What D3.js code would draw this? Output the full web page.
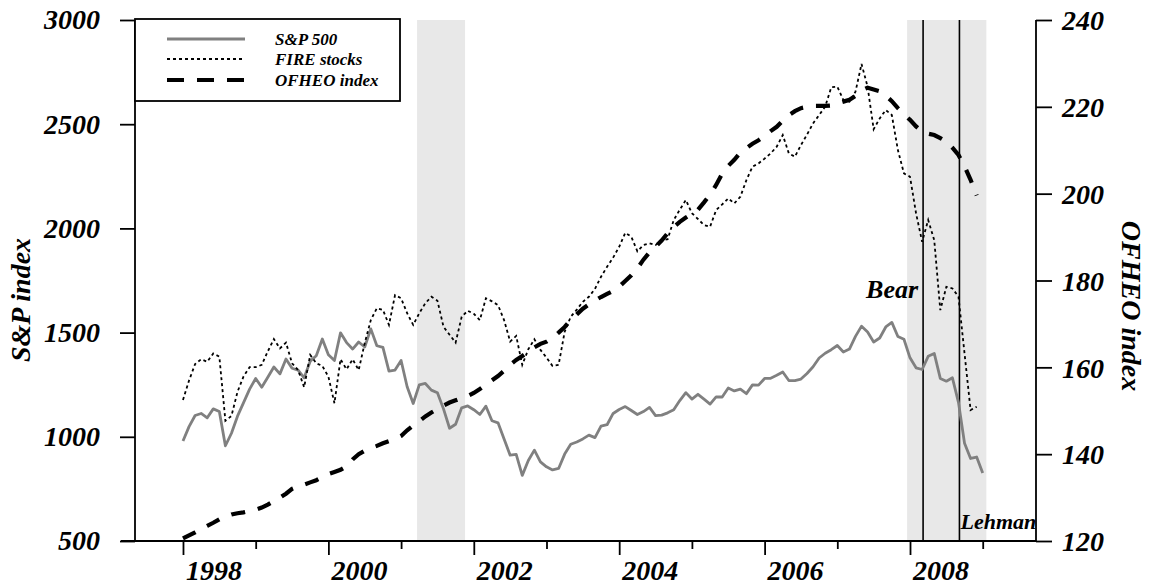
<!DOCTYPE html>
<html><head><meta charset="utf-8">
<script src="https://cdn.jsdelivr.net/npm/d3@7/dist/d3.min.js"></script>
<style>
body{margin:0;background:#fff;}
svg text{font-family:"Liberation Serif","Times New Roman",serif;font-weight:bold;font-style:italic;fill:#000;}
</style></head><body>
<svg id="chart" width="1156" height="588"></svg>
<script>
// ---- data (monthly, first value = Jan 1998) ----
const startYear = 1998;
const sp500 = [980,1049,1102,1112,1091,1134,1121,957,1017,1099,1164,1229,
1280,1238,1286,1335,1302,1373,1329,1320,1283,1363,1389,1469,
1394,1366,1499,1452,1421,1455,1431,1518,1437,1429,1315,1320,
1366,1240,1160,1249,1256,1224,1211,1134,1041,1060,1139,1148,
1130,1107,1147,1077,1067,990,912,916,815,886,936,880,
856,841,848,917,964,975,990,1008,996,1051,1058,1112,
1131,1145,1126,1107,1121,1141,1102,1104,1115,1130,1174,1212,
1181,1204,1181,1157,1192,1191,1234,1220,1229,1207,1249,1248,
1280,1281,1295,1311,1270,1270,1277,1304,1336,1378,1401,1418,
1438,1407,1421,1482,1531,1503,1455,1474,1527,1549,1481,1468,
1379,1331,1323,1386,1400,1280,1267,1283,1165,969,896,903,
826];
const fireStocks = [1177,1270,1349,1372,1360,1400,1385,1077,1100,1216,1290,1334,
1334,1345,1410,1469,1424,1452,1353,1320,1238,1393,1353,1340,
1289,1161,1372,1324,1372,1320,1450,1560,1617,1609,1537,1680,
1665,1593,1537,1593,1641,1672,1653,1528,1490,1452,1576,1605,
1590,1560,1665,1650,1632,1560,1457,1484,1345,1420,1468,1417,
1380,1340,1345,1504,1576,1610,1648,1672,1710,1768,1816,1860,
1912,1979,1960,1890,1920,1928,1920,1944,1948,2040,2090,2136,
2073,2045,2016,2008,2088,2115,2144,2120,2152,2232,2296,2312,
2335,2360,2392,2448,2360,2344,2400,2450,2504,2544,2584,2677,
2680,2616,2608,2656,2789,2680,2476,2528,2568,2544,2376,2264,
2248,2072,1936,2040,1944,1608,1720,1712,1672,1400,1128,1144];
const ofheo = [120.6,121.3,122.0,122.8,123.5,124.2,125.0,125.6,126.1,126.4,126.6,126.9,
127.2,127.7,128.4,129.2,130.0,130.9,132.0,132.6,133.0,133.5,134.0,134.7,
135.4,135.9,136.4,137.2,138.8,140.0,140.8,141.4,141.9,142.5,143.0,143.5,
144.2,145.5,146.6,147.6,148.7,149.6,150.4,151.2,151.9,152.4,152.9,153.4,
154.1,155.0,156.0,157.0,158.0,159.2,160.6,161.7,162.6,163.6,164.6,165.4,
165.9,166.8,168.0,169.3,170.9,172.2,173.5,174.5,175.4,176.2,176.9,177.6,
178.6,179.9,181.2,182.8,184.8,186.5,187.8,189.2,190.9,192.3,193.5,194.5,
195.4,196.3,198.0,199.8,202.0,204.6,206.4,207.8,209.5,210.5,211.5,212.3,
213.3,214.4,215.4,216.8,218.1,219.0,219.7,220.0,220.2,220.2,220.2,220.3,
220.8,221.2,221.6,222.5,223.8,224.4,224.0,223.6,222.6,221.3,219.7,218.3,
217.0,215.5,214.3,213.8,213.5,212.8,212.0,210.6,208.9,206.3,203.2,199.6];
const leftTicks = [500,1000,1500,2000,2500,3000];
const rightTicks = [120,140,160,180,200,220,240];
const yearTicks = [1998,1999,2000,2001,2002,2003,2004,2005,2006,2007,2008,2009];
const yearLabels = [1998,2000,2002,2004,2006,2008];
const recessions = [[2001.22,2001.88],[2007.96,2009.05]];
const events = [{name:"Bear",t:2008.18},{name:"Lehman",t:2008.68}];
const legendItems = ["S&P 500","FIRE stocks","OFHEO index"];

// ---- layout ----
const svg = d3.select("#chart");
const L = 135, R = 1036, T = 20, B = 541;
const x = d3.scaleLinear().domain([1997.34, 2009.733]).range([L, R]);
const yL = d3.scaleLinear().domain([500, 3000]).range([B, T]);
const yR = d3.scaleLinear().domain([120, 240]).range([B, T]);
const tOf = i => startYear + i / 12;

// recession shading
svg.selectAll("rect.rec").data(recessions).join("rect")
  .attr("x", d => x(d[0])).attr("y", T)
  .attr("width", d => x(d[1]) - x(d[0])).attr("height", B - T)
  .attr("fill", "#e8e8e8");

// event lines
svg.selectAll("line.ev").data(events).join("line")
  .attr("x1", d => x(d.t)).attr("x2", d => x(d.t))
  .attr("y1", T).attr("y2", B).attr("stroke", "#000").attr("stroke-width", 1.6);

// series
const lineL = d3.line().x((d, i) => x(tOf(i))).y(d => yL(d));
const lineR = d3.line().x((d, i) => x(tOf(i))).y(d => yR(d));
svg.append("path").attr("d", lineL(sp500)).attr("fill", "none")
  .attr("stroke", "#808080").attr("stroke-width", 2.8).attr("stroke-linejoin", "round");
svg.append("path").attr("d", lineL(fireStocks)).attr("fill", "none")
  .attr("stroke", "#000").attr("stroke-width", 1.8).attr("stroke-dasharray", "3,3");
svg.append("path").attr("d", lineR(ofheo)).attr("fill", "none")
  .attr("stroke", "#000").attr("stroke-width", 4.2).attr("stroke-dasharray", "14,13");

// axes
const fs = 28;
const gL = svg.append("g").attr("transform", `translate(${L},0)`)
  .call(d3.axisLeft(yL).tickValues(leftTicks).tickSize(15).tickPadding(20).tickFormat(d3.format("d")));
const gR = svg.append("g").attr("transform", `translate(${R},0)`)
  .call(d3.axisRight(yR).tickValues(rightTicks).tickSize(16).tickPadding(10).tickFormat(d3.format("d")));
const gB = svg.append("g").attr("transform", `translate(0,${B})`)
  .call(d3.axisBottom(x).tickValues(yearTicks).tickSizeOuter(0).tickFormat(""));
[gL, gR, gB].forEach(g => {
  g.attr("font-family", null);
  g.selectAll("path.domain").attr("stroke", "#000").attr("stroke-width", 1.8);
  g.selectAll(".tick line").attr("stroke", "#000").attr("stroke-width", 1.8);
  g.selectAll("text").attr("font-size", fs);
});
gB.select("path.domain").attr("d", `M${L - 14},0H${R}`);
gB.selectAll(".tick line").attr("y2", d => d % 2 === 0 ? 14 : 8);
gL.select("path.domain").attr("d", `M0,${B}V${T}`);
gR.select("path.domain").attr("d", `M0,${B}V${T}`);
gR.selectAll(".tick text").attr("dy", "0.35em");

svg.append("g").selectAll("text").data(yearLabels).join("text")
  .attr("x", d => x(d) + 31).attr("y", B + 39)
  .attr("text-anchor", "middle").attr("font-size", fs).text(d => d);

// axis titles
svg.append("text").attr("transform", "translate(30,300) rotate(-90)")
  .attr("text-anchor", "middle").attr("font-size", fs).text("S&P index");
svg.append("text").attr("transform", "translate(1122,306) rotate(90)")
  .attr("text-anchor", "middle").attr("font-size", fs).text("OFHEO index");

// event labels
svg.append("text").attr("x", x(events[0].t) - 5).attr("y", 298)
  .attr("text-anchor", "end").attr("font-size", 26).text(events[0].name);
svg.append("text").attr("x", x(events[1].t) + 1).attr("y", 529)
  .attr("text-anchor", "start").attr("font-size", 22).text(events[1].name);

// legend
const lg = svg.append("g");
lg.append("rect").attr("x", L).attr("y", T - 1).attr("width", 265).attr("height", 82)
  .attr("fill", "#fff").attr("stroke", "#000").attr("stroke-width", 1.8);
const rowsY = [39, 59, 80];
const styles = [
  {stroke:"#808080", w:2.8, dash:null},
  {stroke:"#000", w:1.8, dash:"3,3"},
  {stroke:"#000", w:4.2, dash:"17,13"}];
legendItems.forEach((name, i) => {
  lg.append("line").attr("x1", 167).attr("x2", 245).attr("y1", rowsY[i]).attr("y2", rowsY[i])
    .attr("stroke", styles[i].stroke).attr("stroke-width", styles[i].w)
    .attr("stroke-dasharray", styles[i].dash);
  lg.append("text").attr("x", 275).attr("y", rowsY[i] + 6).attr("font-size", 17).text(name);
});
</script>
</body></html>
